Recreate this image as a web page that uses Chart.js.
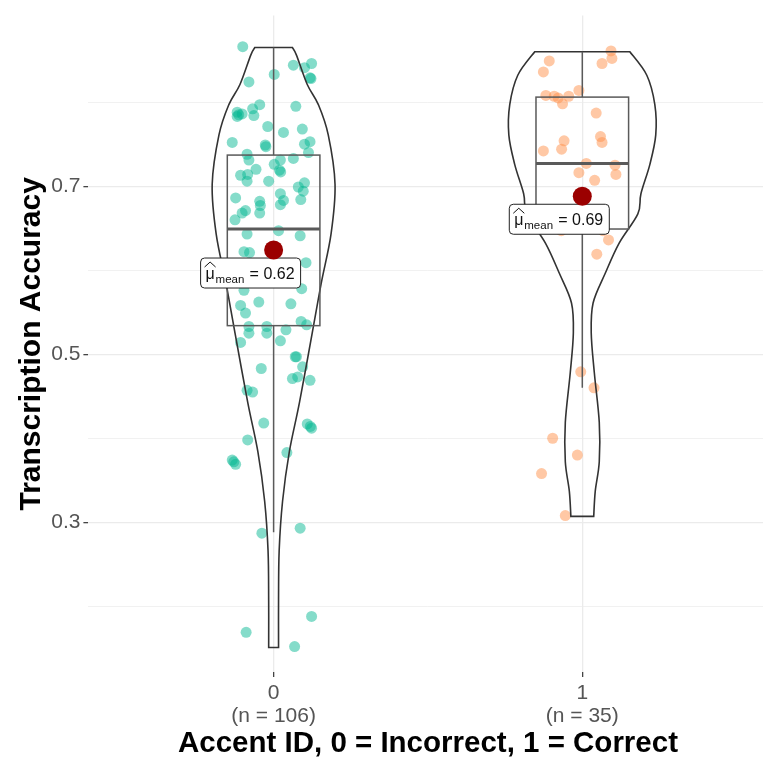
<!DOCTYPE html>
<html>
<head>
<meta charset="utf-8">
<script src="https://cdn.jsdelivr.net/npm/chart.js@4/dist/chart.umd.min.js"></script>
<style>
  html, body { margin: 0; padding: 0; background: #fff; overflow: hidden; }
</style>
</head>
<body>
<!-- panel runs a little past the right edge of the window, like the original -->
<canvas id="chartCanvas" width="773" height="760"></canvas>
<script>
// ---------- Data ----------
const groups = [0, 1];
const groupCounts = [106, 35];
const groupMeans = [0.624, 0.688];

const yGridValues = [0.2, 0.3, 0.4, 0.5, 0.6, 0.7, 0.8];
const yLabelValues = [0.3, 0.5, 0.7];

// jittered observations, accuracy + horizontal jitter offset
const acc0 = [0.866, 0.844, 0.841, 0.846, 0.828, 0.829, 0.824, 0.833, 0.797, 0.792, 0.788, 0.786, 0.783, 0.785,
    0.784, 0.795, 0.771, 0.764, 0.768, 0.752, 0.749, 0.747, 0.753, 0.750, 0.740, 0.738, 0.731, 0.733, 0.731,
    0.726, 0.720, 0.713, 0.714, 0.719, 0.717, 0.706, 0.706, 0.704, 0.699, 0.694, 0.691, 0.686, 0.683, 0.682,
    0.684, 0.678, 0.677, 0.671, 0.668, 0.668, 0.660, 0.647, 0.643, 0.641, 0.622, 0.621, 0.609, 0.576, 0.578,
    0.562, 0.558, 0.560, 0.549, 0.539, 0.535, 0.533, 0.533, 0.525, 0.525, 0.529, 0.514, 0.516, 0.497, 0.497,
    0.483, 0.485, 0.471, 0.473, 0.469, 0.457, 0.455, 0.418, 0.417, 0.412, 0.414, 0.398, 0.383, 0.374, 0.369,
    0.372, 0.287, 0.293, 0.188, 0.169, 0.152];
const jit0 = [-0.100, 0.064, 0.100, 0.123, 0.121, 0.118, -0.080, 0.002, -0.045, -0.068, -0.118, -0.102, -0.118, -0.113,
    -0.064, 0.072, -0.019, 0.032, 0.093, -0.134, -0.027, -0.025, 0.118, 0.100, 0.113, -0.086, -0.080, 0.064, 0.022,
    0.002, -0.057, -0.107, -0.084, 0.019, 0.023, -0.086, -0.016, 0.100, 0.080, 0.096, 0.022, -0.123, 0.032, -0.045,
    0.088, 0.022, -0.043, -0.091, -0.102, -0.045, -0.125, 0.016, -0.086, 0.086, -0.096, -0.078, 0.105, -0.096, 0.091,
    -0.048, -0.107, 0.056, -0.091, 0.089, 0.107, -0.080, -0.022, -0.080, -0.022, 0.040, -0.107, 0.022, 0.070, 0.074,
    -0.040, 0.094, 0.061, 0.078, 0.118, -0.086, -0.068, -0.032, 0.109, 0.123, 0.119, -0.084, 0.043, -0.134, -0.123,
    -0.129, -0.038, 0.086, 0.123, -0.089, 0.068];

const acc1 = [0.861, 0.852, 0.846, 0.849, 0.836, 0.814, 0.808, 0.807, 0.805, 0.807, 0.798, 0.787, 0.759, 0.752,
    0.754, 0.744, 0.742, 0.727, 0.725, 0.716, 0.714, 0.707, 0.647, 0.647, 0.636, 0.619, 0.479, 0.460, 0.400,
    0.380, 0.358, 0.308];
const jit1 = [0.093, 0.096, 0.064, -0.107, -0.126, -0.011, -0.118, -0.091, -0.078, -0.044, -0.064, 0.045, 0.059, 0.064,
    -0.059, -0.067, -0.126, 0.013, 0.106, -0.011, 0.109, 0.040, -0.068, 0.067, 0.085, 0.047, -0.005, 0.038, -0.096,
    -0.016, -0.132, -0.055];

// violin outline: accuracy (top -> bottom) and half width (x units)
const violin0Acc = [0.865, 0.856, 0.821, 0.797, 0.761, 0.702, 0.643, 0.584, 0.525, 0.443, 0.384, 0.325, 0.266, 0.207, 0.151];
const violin0Width = [0.061, 0.074, 0.109, 0.145, 0.177, 0.199, 0.186, 0.154, 0.125, 0.084, 0.051, 0.029, 0.018, 0.016, 0.016];
const violin1Acc = [0.860, 0.832, 0.797, 0.761, 0.726, 0.691, 0.667, 0.632, 0.596, 0.561, 0.525, 0.478, 0.419, 0.372, 0.337, 0.307];
const violin1Width = [0.154, 0.209, 0.235, 0.238, 0.219, 0.190, 0.180, 0.119, 0.074, 0.035, 0.029, 0.039, 0.055, 0.055, 0.042, 0.037];

// box stats per group
const boxLow = [0.288, 0.460];
const boxQ1 = [0.534, 0.649];
const boxMedian = [0.649, 0.727];
const boxQ3 = [0.737, 0.806];
const boxHigh = [0.865, 0.860];

const FONT = '"Liberation Sans", Arial, sans-serif';
const violinAcc = [violin0Acc, violin1Acc];
const violinWidth = [violin0Width, violin1Width];

// ---------- helpers ----------
function smoothThrough(ctx, pts) {
    // catmull-rom -> bezier, assumes first point already moved/lined to
    for (let i = 0; i < pts.length - 1; i++) {
        const p0 = pts[i - 1] || pts[i], p1 = pts[i], p2 = pts[i + 1], p3 = pts[i + 2] || pts[i + 1];
        ctx.bezierCurveTo(
            p1.x + (p2.x - p0.x) / 6, p1.y + (p2.y - p0.y) / 6,
            p2.x - (p3.x - p1.x) / 6, p2.y - (p3.y - p1.y) / 6,
            p2.x, p2.y);
    }
}

function drawViolin(ctx, xs, ys, g, accs, widths) {
    const left = accs.map((v, k) => ({ x: xs.getPixelForValue(g - widths[k]), y: ys.getPixelForValue(v) }));
    const right = accs.map((v, k) => ({ x: xs.getPixelForValue(g + widths[k]), y: ys.getPixelForValue(v) })).reverse();
    ctx.beginPath();
    ctx.moveTo(left[0].x, left[0].y);
    smoothThrough(ctx, left);
    ctx.lineTo(right[0].x, right[0].y);
    smoothThrough(ctx, right);
    ctx.closePath();
    ctx.strokeStyle = '#333333';
    ctx.lineWidth = 1.6;
    ctx.stroke();
}

function drawBox(ctx, xs, ys, g, i) {
    const cx = xs.getPixelForValue(g);
    const x1 = xs.getPixelForValue(g - 0.15), x2 = xs.getPixelForValue(g + 0.15);
    const yQ1 = ys.getPixelForValue(boxQ1[i]), yQ3 = ys.getPixelForValue(boxQ3[i]);
    ctx.strokeStyle = '#5a5a5a';
    ctx.lineWidth = 1.5;
    ctx.beginPath();
    ctx.moveTo(cx, ys.getPixelForValue(boxHigh[i])); ctx.lineTo(cx, yQ3);
    ctx.moveTo(cx, yQ1); ctx.lineTo(cx, ys.getPixelForValue(boxLow[i]));
    ctx.stroke();
    ctx.strokeRect(x1, yQ3, x2 - x1, yQ1 - yQ3);
    const yMed = ys.getPixelForValue(boxMedian[i]);
    ctx.lineWidth = 3;
    ctx.beginPath();
    ctx.moveTo(x1, yMed); ctx.lineTo(x2, yMed);
    ctx.stroke();
}

function drawMean(ctx, xs, ys, g, m) {
    const px = xs.getPixelForValue(g), py = ys.getPixelForValue(m);
    // label box (left-below the point)
    const bx = px - 73, by = py + 8, bw = 100, bh = 30;
    ctx.beginPath();
    ctx.roundRect(bx, by, bw, bh, 4);
    ctx.fillStyle = '#ffffff';
    ctx.fill();
    ctx.strokeStyle = '#222';
    ctx.lineWidth = 1;
    ctx.stroke();

    ctx.fillStyle = '#111';
    ctx.textAlign = 'left';
    ctx.textBaseline = 'alphabetic';
    ctx.font = '16px ' + FONT;
    ctx.fillText('\u03bc', bx + 5, by + 21);
    ctx.beginPath();
    ctx.moveTo(bx + 4, by + 9); ctx.lineTo(bx + 9.5, by + 4); ctx.lineTo(bx + 15, by + 9);
    ctx.lineWidth = 1;
    ctx.strokeStyle = '#111';
    ctx.stroke();
    ctx.font = '11.5px ' + FONT;
    ctx.fillText('mean', bx + 15, by + 25);
    ctx.font = '16px ' + FONT;
    ctx.fillText('= ' + m.toFixed(2), bx + 49, by + 21);

    // mean point
    ctx.beginPath();
    ctx.arc(px, py, 9.5, 0, Math.PI * 2);
    ctx.fillStyle = '#9b0000';
    ctx.fill();
}

const extrasPlugin = {
    id: 'extras',
    afterDatasetsDraw(chart) {
        const ctx = chart.ctx;
        const xs = chart.scales.x, ys = chart.scales.y;
        ctx.save();
        groups.forEach((g, i) => {
            drawViolin(ctx, xs, ys, g, violinAcc[i], violinWidth[i]);
            drawBox(ctx, xs, ys, g, i);
        });
        groups.forEach((g, i) => drawMean(ctx, xs, ys, g, groupMeans[i]));
        ctx.restore();
    }
};

// ---------- Chart ----------
const isLabeled = v => yLabelValues.some(t => Math.abs(t - v) < 1e-6);

new Chart(document.getElementById('chartCanvas').getContext('2d'), {
    type: 'scatter',
    data: {
        datasets: [
            {
                data: acc0.map((v, i) => ({ x: groups[0] + jit0[i], y: v })),
                backgroundColor: 'rgba(0,181,145,0.48)',
                borderWidth: 0,
                pointRadius: 5.5
            },
            {
                data: acc1.map((v, i) => ({ x: groups[1] + jit1[i], y: v })),
                backgroundColor: 'rgba(255,145,75,0.5)',
                borderWidth: 0,
                pointRadius: 5.5
            }
        ]
    },
    options: {
        responsive: false,
        animation: false,
        layout: { padding: { top: 10, right: 0, bottom: 0, left: 0 } },
        plugins: { legend: { display: false }, tooltip: { enabled: false } },
        scales: {
            x: {
                type: 'linear',
                min: -0.6,
                max: 1.6,
                bounds: 'data',
                afterBuildTicks: s => { s.ticks = groups.map(v => ({ value: v })); },
                afterFit: s => { s.height = 88; },
                ticks: {
                    callback: (v, i) => [String(groups[i]), '(n = ' + groupCounts[i] + ')'],
                    font: { family: FONT, size: 21, lineHeight: 1.12 },
                    color: '#555555',
                    padding: 4,
                    maxRotation: 0
                },
                grid: { color: '#ebebeb', lineWidth: 1.3, tickLength: 5, tickColor: '#444' },
                border: { display: false },
                title: {
                    display: true,
                    text: 'Accent ID, 0 = Incorrect, 1 = Correct',
                    font: { family: FONT, size: 29.5, weight: 'bold', lineHeight: 1 },
                    color: '#000',
                    padding: { top: 0, bottom: 1 }
                }
            },
            y: {
                min: 0.1218,
                max: 0.903,
                bounds: 'data',
                afterBuildTicks: s => { s.ticks = yGridValues.map(v => ({ value: v })); },
                afterFit: s => { s.width = 88.4; },
                ticks: {
                    callback: v => isLabeled(v) ? v.toFixed(1) : '',
                    font: { family: FONT, size: 21 },
                    color: '#555555',
                    padding: 3
                },
                grid: {
                    color: '#ebebeb',
                    lineWidth: c => isLabeled(c.tick.value) ? 1.3 : 0.7,
                    tickLength: 5,
                    tickColor: c => isLabeled(c.tick.value) ? '#444' : 'rgba(0,0,0,0)'
                },
                border: { display: false },
                title: {
                    display: true,
                    text: 'Transcription Accuracy',
                    font: { family: FONT, size: 30, weight: 'bold', lineHeight: 1.2 },
                    color: '#000',
                    padding: { top: 14, bottom: 0 }
                }
            }
        }
    },
    plugins: [extrasPlugin]
});
</script>
</body>
</html>
